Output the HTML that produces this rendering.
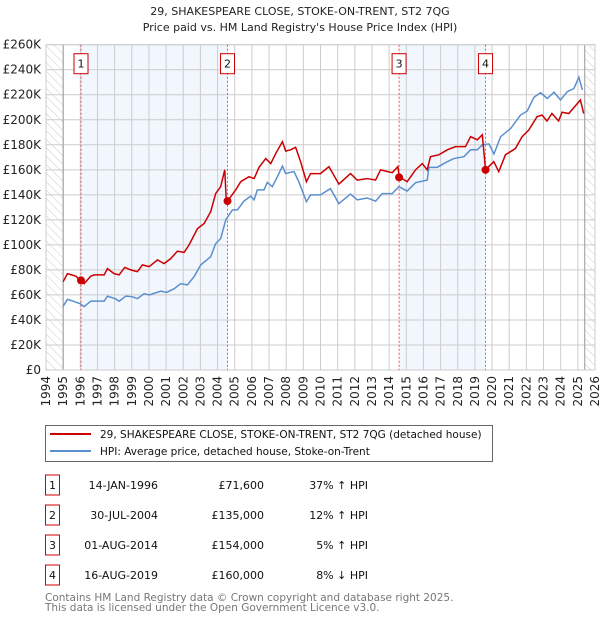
<!DOCTYPE html>
<html><head><meta charset="utf-8"><style>
body{margin:0;background:#fff;}
svg text{font-family:"DejaVu Sans","Liberation Sans",sans-serif;}
</style></head><body>
<svg id="chart" width="600" height="620" xmlns="http://www.w3.org/2000/svg">
<defs><pattern id="hatch" width="6" height="6" patternUnits="userSpaceOnUse" patternTransform="rotate(-45)"><line x1="0" y1="0" x2="0" y2="6" stroke="#ccc" stroke-width="1"/></pattern></defs>
<text x="300" y="15" text-anchor="middle" font-size="11" fill="#222">29, SHAKESPEARE CLOSE, STOKE-ON-TRENT, ST2 7QG</text>
<text x="300" y="31" text-anchor="middle" font-size="11" fill="#222">Price paid vs. HM Land Registry's House Price Index (HPI)</text>
<g id="plot"></g>
<g>
<rect x="45.5" y="425.5" width="447" height="36" fill="#fff" stroke="#666"/>
<line x1="50" y1="434" x2="91" y2="434" stroke="#cc0000" stroke-width="2"/>
<text x="100" y="438" font-size="10.5" fill="#111">29, SHAKESPEARE CLOSE, STOKE-ON-TRENT, ST2 7QG (detached house)</text>
<line x1="50" y1="451" x2="91" y2="451" stroke="#5b8fd0" stroke-width="2"/>
<text x="100" y="455" font-size="10.5" fill="#111">HPI: Average price, detached house, Stoke-on-Trent</text>
</g>
<g id="table"></g>
<text x="45" y="601" font-size="10.5" fill="#777">Contains HM Land Registry data © Crown copyright and database right 2025.</text>
<text x="45" y="611" font-size="10.5" fill="#777">This data is licensed under the Open Government Licence v3.0.</text>
</svg>
<script>
const hpiYears=[1995.00,1995.25,1995.99,1996.22,1996.61,1997.39,1997.58,1998.03,1998.26,1998.65,1999.02,1999.33,1999.72,2000.01,2000.69,2001.02,2001.47,2001.85,2002.24,2002.63,2003.02,2003.60,2003.89,2004.18,2004.48,2004.87,2005.16,2005.54,2005.93,2006.13,2006.32,2006.71,2006.90,2007.19,2007.49,2007.78,2007.97,2008.26,2008.46,2008.75,2009.18,2009.42,2010.00,2010.58,2011.07,2011.75,2012.14,2012.72,2013.21,2013.60,2014.18,2014.57,2015.05,2015.54,2016.22,2016.32,2016.80,2017.39,2017.77,2018.36,2018.75,2019.14,2019.43,2019.82,2020.11,2020.50,2021.08,2021.66,2022.05,2022.44,2022.83,2023.22,2023.61,2023.99,2024.38,2024.77,2025.06,2025.26];
const hpiValues=[51,56.5,53,50.6,55,55,59,57,55,59,58.6,57,61,60,63,62,65,69,68,74.6,84,90.6,101,105,120,128,128,135,139,136,144,144,150,146.5,154.5,163,157,158,158.5,150,134.5,140,140,145,133,140.6,136,137.5,135,141,141,146.5,143,149.7,151.8,162,162,166.5,169,170.5,176,176,180,180.7,172.6,186.5,193,203.8,207,218,221.6,217,222,215.8,222.4,225,234,223.8];
const priceYears=[1995.00,1995.25,1995.74,1995.99,1996.22,1996.61,1996.81,1997.39,1997.58,1997.97,1998.26,1998.59,1998.94,1999.33,1999.62,2000.01,2000.50,2000.88,2001.27,2001.66,2002.05,2002.34,2002.83,2003.21,2003.60,2003.89,2004.18,2004.42,2004.51,2004.77,2005.06,2005.35,2005.83,2006.13,2006.42,2006.81,2007.10,2007.39,2007.78,2007.97,2008.26,2008.55,2008.84,2009.18,2009.42,2010.00,2010.49,2011.07,2011.75,2012.14,2012.72,2013.21,2013.50,2014.18,2014.51,2014.59,2015.05,2015.54,2015.93,2016.22,2016.41,2016.90,2017.39,2017.87,2018.45,2018.75,2019.14,2019.43,2019.62,2020.10,2020.39,2020.78,2021.36,2021.75,2022.14,2022.62,2022.91,2023.20,2023.49,2023.88,2024.08,2024.47,2025.15,2025.34];
const priceValues=[70.6,77,75,72,69,75,76,76,81,77,76,82,80,78.6,84,82.6,88,85,89,95,94,100,113,117,126.5,141,146.5,160,134.5,138.5,144,150.5,154.5,153,162,169,165,173,182.5,175,176,178,166.5,150.5,157,157,162.5,148.6,157,151.8,153,151.8,160,157.7,162.5,154.5,150.5,160,165,160,170.5,172,176,178.5,178.5,186.5,184,188,160,166.5,158.5,172,177,186.5,191.8,202.4,203.8,199,205,199,206,205,215.8,205];
const saleYears=[1996.04,2004.58,2014.58,2019.62];
const salePrices=[71.6,135,154,160];
const saleDates=["14-JAN-1996","30-JUL-2004","01-AUG-2014","16-AUG-2019"];
const salePriceLabels=["£71,600","£135,000","£154,000","£160,000"];
const saleHpi=["37% ↑ HPI","12% ↑ HPI","5% ↑ HPI","8% ↓ HPI"];
const yTicks=[0,20,40,60,80,100,120,140,160,180,200,220,240,260];
const xTicks=[1994,1995,1996,1997,1998,1999,2000,2001,2002,2003,2004,2005,2006,2007,2008,2009,2010,2011,2012,2013,2014,2015,2016,2017,2018,2019,2020,2021,2022,2023,2024,2025,2026];

const L=46,R=595,T=44.7,B=370;
const x=y=>L+(y-1994)*(R-L)/32;
const yv=v=>B-v*(B-T)/260;
const NS="http://www.w3.org/2000/svg";
const plot=document.getElementById('plot');
function mk(tag,attrs,parent){const e=document.createElementNS(NS,tag);for(const k in attrs)e.setAttribute(k,attrs[k]);(parent||plot).appendChild(e);return e;}
mk('rect',{x:x(saleYears[0]),y:T,width:x(saleYears[1])-x(saleYears[0]),height:B-T,fill:'#eef3fc',opacity:0.75});
mk('rect',{x:x(saleYears[2]),y:T,width:x(saleYears[3])-x(saleYears[2]),height:B-T,fill:'#eef3fc',opacity:0.75});
mk('rect',{x:L,y:T,width:x(1995)-L,height:B-T,fill:'url(#hatch)'});
mk('rect',{x:x(2025.4),y:T,width:R-x(2025.4),height:B-T,fill:'url(#hatch)'});
for(const t of yTicks){
 const g=mk('line',{x1:L,x2:R,y1:yv(t),y2:yv(t),stroke:'#ccc','stroke-width':1});
 
 
 const tx=mk('text',{x:L-5,y:yv(t)+4,'text-anchor':'end','font-size':12,fill:'#222'});
 tx.textContent=t===0?'£0':'£'+t+'K';
 
 
}
for(const t of xTicks){
 const g=mk('line',{x1:x(t),x2:x(t),y1:T,y2:B,stroke:'#ccc','stroke-width':1});
 
 
 const tx=mk('text',{x:0,y:0,'text-anchor':'end','font-size':12,fill:'#222',transform:`translate(${x(t)+4},${B+6}) rotate(-90)`});
 tx.textContent=t;
 
 
}
mk('line',{x1:x(1995),x2:x(1995),y1:T,y2:B,stroke:'#999'});
mk('line',{x1:x(2025.4),x2:x(2025.4),y1:T,y2:B,stroke:'#999'});
mk('rect',{x:L,y:T,width:R-L,height:B-T,fill:'none',stroke:'#ccc'});
saleYears.forEach((s,i)=>{
 const l=mk('line',{x1:x(s),x2:x(s),y1:T,y2:B,stroke:'#e55','stroke-width':1,'stroke-dasharray':'2,2'});
 
 
 const b=mk('rect',{x:x(s)-7,y:T+9,width:14,height:20,fill:'#fff',stroke:'#cc0000'});
 
 
 const t=mk('text',{x:x(s),y:T+23,'text-anchor':'middle','font-size':11,fill:'#111'});t.textContent=i+1;
});
const hp=mk('polyline',{points:hpiYears.map((y,i)=>x(y)+','+yv(hpiValues[i])).join(' '),fill:'none',stroke:'#5b8fd0','stroke-width':1.5});


const pp=mk('polyline',{points:priceYears.map((y,i)=>x(y)+','+yv(priceValues[i])).join(' '),fill:'none',stroke:'#cc0000','stroke-width':1.5});


saleYears.forEach((s,i)=>{
 const c=mk('circle',{cx:x(s),cy:yv(salePrices[i]),r:4,fill:'#cc0000'});
 
 
});
const tb=document.getElementById('table');
saleDates.forEach((d,i)=>{
 const cy=485+i*30;
 mk('rect',{x:45.5,y:cy-10,width:14,height:20,fill:'#fff',stroke:'#cc0000'},tb);
 const n=mk('text',{x:52.5,y:cy+4,'text-anchor':'middle','font-size':11,fill:'#111'},tb);n.textContent=i+1;
 const a=mk('text',{x:158,y:cy+4,'text-anchor':'end','font-size':11,fill:'#111'},tb);a.textContent=d;
 
 
 const b=mk('text',{x:264,y:cy+4,'text-anchor':'end','font-size':11,fill:'#111'},tb);b.textContent=salePriceLabels[i];
 
 
 const c=mk('text',{x:368,y:cy+4,'text-anchor':'end','font-size':11,fill:'#111'},tb);c.textContent=saleHpi[i];
 
 
});
</script>
</body></html>
